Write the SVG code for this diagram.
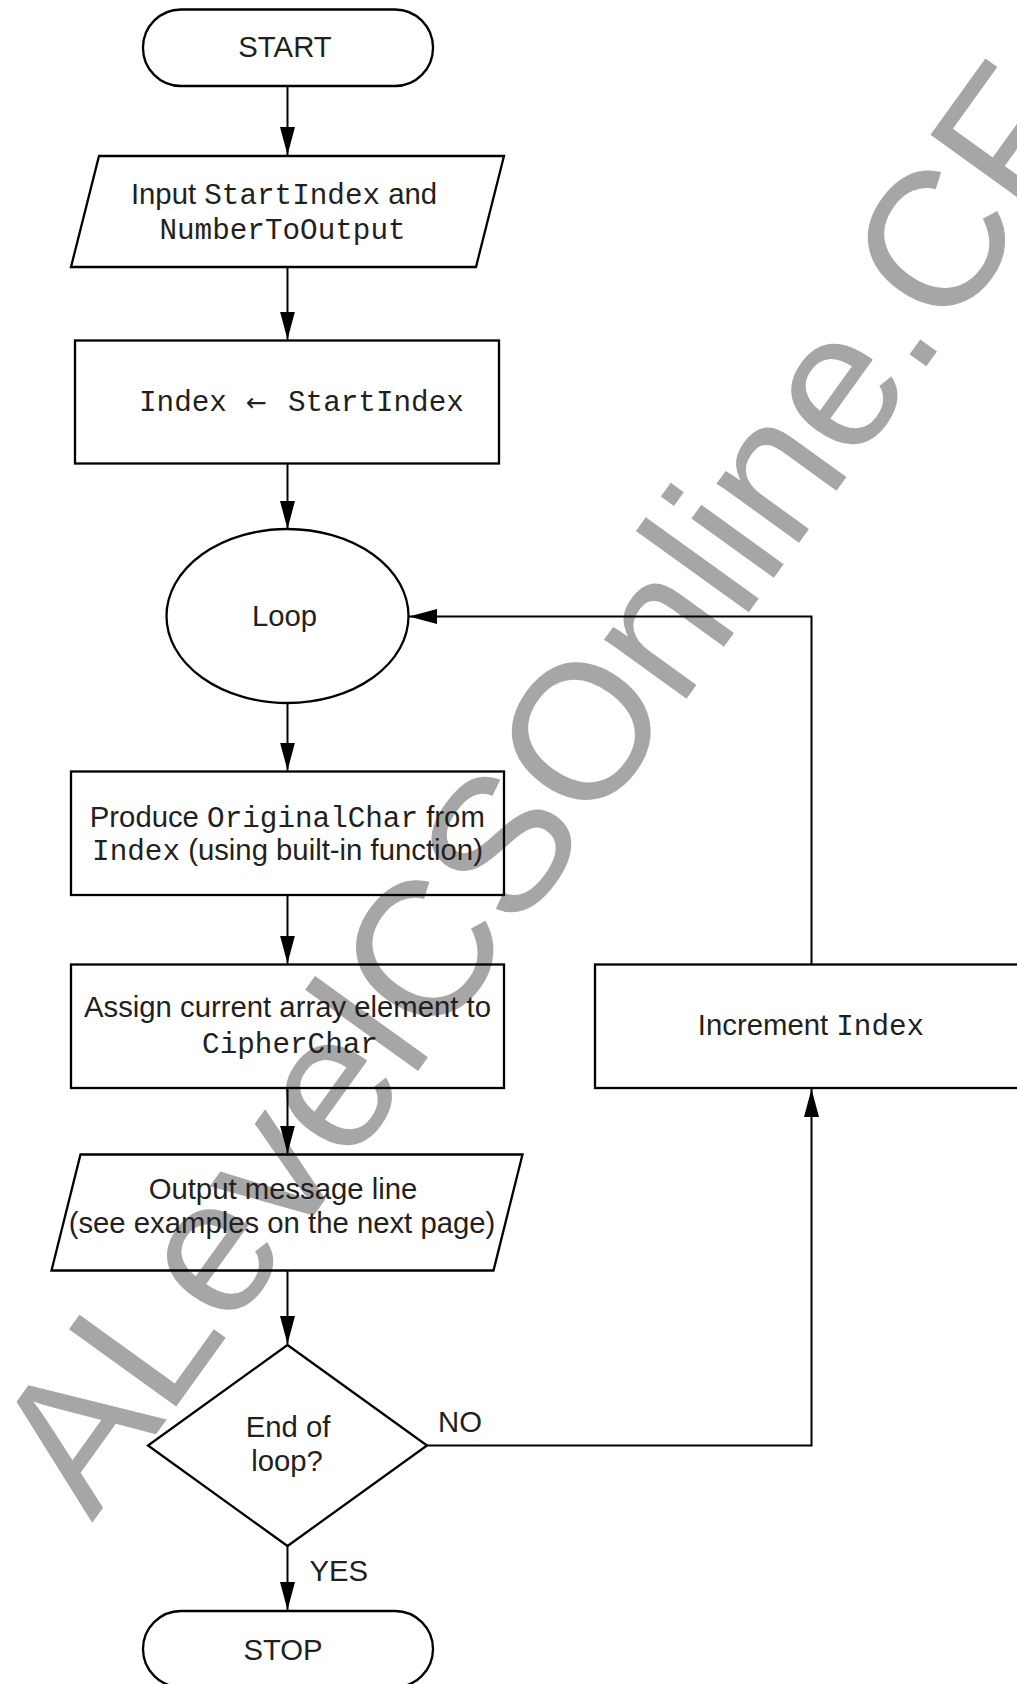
<svg xmlns="http://www.w3.org/2000/svg" width="1017" height="1684" viewBox="0 0 1017 1684">
<style>
.wm{font-family:"Liberation Sans",Arial,sans-serif;font-size:192px;fill:#a6a6a6}
.shape{fill:none;stroke:#000;stroke-width:2.3}
.conn{fill:none;stroke:#000;stroke-width:2}
.t{font-family:"Liberation Sans",Arial,sans-serif;font-size:29.3px;fill:#231f20}
.m{font-family:"Liberation Mono","Courier New",monospace;font-size:29.3px;fill:#231f20}
.ar{font-family:"DejaVu Sans",sans-serif;font-size:25px;fill:#231f20}
.c{text-anchor:middle}
</style>
<defs>
<marker id="arr" markerUnits="userSpaceOnUse" viewBox="0 0 28 15" refX="28" refY="7.5" markerWidth="28" markerHeight="15" orient="auto">
<path d="M0,0 L28,7.5 L0,15 Z" fill="#000"/>
</marker>
</defs>
<rect width="1017" height="1684" fill="#fff"/>
<text class="wm" transform="translate(92,1523) rotate(-54.2)">ALevelCSOnline.CF</text>

<g id="start">
<rect class="shape" x="143" y="9.5" width="290" height="76.5" rx="38" ry="38"/>
<text class="t c" x="285" y="57">START</text>
</g>
<g id="input">
<polygon class="shape" points="99,156 504,156 476,267 71,267"/>
<text class="t c" x="284" y="204">Input <tspan class="m">StartIndex</tspan> and</text>
<text class="m c" x="282.5" y="239">NumberToOutput</text>
</g>
<g id="init">
<rect class="shape" x="75" y="340.5" width="424" height="123"/>
<text class="m" y="411"><tspan x="139">Index</tspan><tspan class="ar" x="246">←</tspan><tspan x="288">StartIndex</tspan></text>
</g>
<g id="loop">
<ellipse class="shape" cx="287.5" cy="616" rx="121" ry="87"/>
<text class="t c" x="284.5" y="626">Loop</text>
</g>
<g id="produce">
<rect class="shape" x="71" y="771.5" width="433" height="123.5"/>
<text class="t c" x="287.3" y="827">Produce <tspan class="m">OriginalChar</tspan> from</text>
<text class="t c" x="287.5" y="860"><tspan class="m">Index</tspan> (using built-in function)</text>
</g>
<g id="assign">
<rect class="shape" x="71" y="964.5" width="433" height="123.5"/>
<text class="t c" x="287.5" y="1017">Assign current array element to</text>
<text class="m c" x="290" y="1053">CipherChar</text>
</g>
<g id="increment">
<rect class="shape" x="595" y="964.5" width="450" height="123.5"/>
<text class="t c" x="811" y="1035">Increment <tspan class="m">Index</tspan></text>
</g>
<g id="output">
<polygon class="shape" points="80.5,1154.5 522.5,1154.5 493.5,1270.5 51.5,1270.5"/>
<text class="t c" x="283" y="1199">Output message line</text>
<text class="t c" x="282" y="1233">(see examples on the next page)</text>
</g>
<g id="decision">
<polygon class="shape" points="287.5,1345 427,1445.5 287.5,1546 148,1445.5"/>
<text class="t c" x="288" y="1437">End of</text>
<text class="t c" x="287" y="1471">loop?</text>
</g>
<g id="stop">
<rect class="shape" x="143" y="1611" width="290" height="76" rx="38" ry="38"/>
<text class="t c" x="283" y="1660">STOP</text>
</g>

<g id="connectors">
<line class="conn" x1="287.5" y1="86" x2="287.5" y2="155" marker-end="url(#arr)"/>
<line class="conn" x1="287.5" y1="267" x2="287.5" y2="339.5" marker-end="url(#arr)"/>
<line class="conn" x1="287.5" y1="463.5" x2="287.5" y2="529" marker-end="url(#arr)"/>
<line class="conn" x1="287.5" y1="703" x2="287.5" y2="770.5" marker-end="url(#arr)"/>
<line class="conn" x1="287.5" y1="895" x2="287.5" y2="963.5" marker-end="url(#arr)"/>
<line class="conn" x1="287.5" y1="1088" x2="287.5" y2="1153.5" marker-end="url(#arr)"/>
<line class="conn" x1="287.5" y1="1270.5" x2="287.5" y2="1344" marker-end="url(#arr)"/>
<line class="conn" x1="287.5" y1="1546" x2="287.5" y2="1610" marker-end="url(#arr)"/>
<polyline class="conn" points="427,1445.5 811.5,1445.5 811.5,1089" marker-end="url(#arr)"/>
<polyline class="conn" points="811.5,964.5 811.5,616.5 409,616.5" marker-end="url(#arr)"/>
<text class="t" x="438" y="1432">NO</text>
<text class="t" x="309.5" y="1581">YES</text>
</g>
</svg>
